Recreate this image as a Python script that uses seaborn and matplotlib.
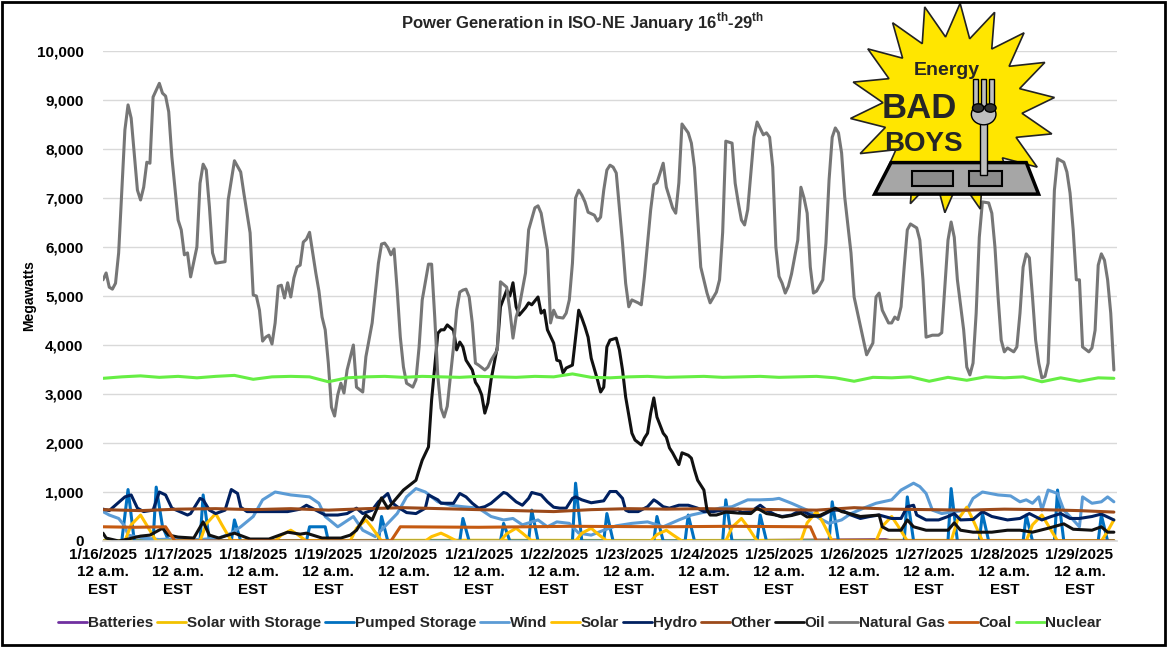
import matplotlib
matplotlib.use("Agg")
import matplotlib.pyplot as plt
from matplotlib.patches import Rectangle, Polygon, Ellipse
import seaborn as sns
import pandas as pd
import numpy as np

# (hour since 1/16/2025 12 a.m., megawatts)
gas = [(0,5330),(1,5470),(2,5180),(3,5140),(4,5260),(5,5880),(7,8390),(8,8900),(9,8630),(11,7160),(12,6960),(13,7220),(14,7730),(15,7710),(16,9060),(18,9340),(19,9140),(20,9080),(21,8760),(22,7840),(24,6550),(25,6350),(26,5840),(27,5880),(28,5390),(30,6000),(31,7300),(32,7690),(33,7570),(34,6820),(35,5880),(36,5670),(38,5690),(39,5700),(40,6960),(42,7760),(44,7530),(45,7100),(47,6290),(48,5020),(49,5000),(50,4710),(51,4080),(52,4160),(53,4200),(54,4020),(55,4450),(56,5200),(57,5220),(58,4960),(59,5270),(60,4980),(61,5370),(62,5590),(63,5630),(64,6100),(65,6160),(66,6300),(67,5880),(68,5470),(69,5100),(70,4570),(71,4310),(72,3630),(73,2730),(74,2550),(75,2980),(76,3220),(77,3020),(78,3490),(80,4000),(81,3140),(83,3040),(84,3760),(86,4450),(87,5060),(88,5670),(89,6060),(90,6080),(91,5990),(92,5840),(93,5960),(94,5120),(95,4160),(96,3550),(97,3220),(99,3140),(100,3290),(101,3960),(102,4920),(104,5650),(105,5650),(106,4570),(107,3350),(108,2710),(109,2530),(110,2750),(112,3960),(113,4710),(114,5080),(115,5120),(116,5140),(117,4980),(118,4450),(119,3630),(120,3590),(122,3490),(123,3550),(124,3690),(126,3900),(127,5290),(129,5180),(130,4710),(131,4140),(132,4570),(133,4780),(135,5470),(136,6350),(138,6800),(139,6840),(140,6690),(142,5940),(143,4450),(144,4710),(145,4570),(147,4550),(148,4650),(149,4920),(150,5670),(151,7000),(152,7160),(153,7060),(154,6920),(155,6710),(157,6650),(158,6530),(159,6610),(160,7160),(161,7570),(162,7670),(163,7630),(164,7510),(166,6080),(167,5260),(168,4780),(169,4920),(171,4860),(172,4820),(173,5390),(175,6760),(176,7270),(177,7310),(179,7710),(180,7220),(182,6800),(183,6690),(184,7310),(185,8510),(187,8330),(188,8120),(189,7620),(190,6610),(191,5590),(193,5060),(194,4860),(196,5080),(197,5330),(198,6300),(199,8160),(201,8120),(202,7300),(203,6900),(204,6550),(205,6450),(206,6760),(207,7510),(208,8240),(209,8550),(211,8290),(212,8330),(213,8240),(214,7630),(215,6000),(216,5400),(217,5260),(218,5060),(219,5200),(220,5450),(222,6140),(223,7220),(224,7000),(225,6690),(226,5590),(227,5060),(228,5100),(230,5330),(231,6080),(232,7370),(233,8240),(234,8430),(235,8330),(236,7920),(237,7020),(239,5880),(240,4980),(243,4100),(244,3800),(246,4040),(247,4980),(248,5060),(249,4710),(251,4450),(252,4450),(253,4570),(254,4520),(255,4780),(256,5590),(257,6350),(258,6470),(260,6390),(261,6140),(262,5330),(263,4160),(265,4200),(267,4200),(268,4250),(269,5180),(270,6140),(271,6510),(272,6200),(273,5330),(275,4310),(276,3550),(277,3390),(278,3630),(279,4650),(280,6200),(281,6920),(283,6900),(284,6690),(285,6000),(286,4980),(287,4100),(288,3860),(289,3940),(291,3860),(292,3960),(293,4650),(294,5590),(295,5860),(296,5780),(297,4980),(298,4100),(299,3630),(300,3330),(301,3360),(302,3630),(303,5330),(304,7160),(305,7800),(307,7730),(308,7530),(309,7100),(310,6350),(311,5330),(312,5330),(313,3960),(315,3860),(316,3940),(317,4300),(318,5630),(319,5860),(320,5730),(321,5330),(322,4650),(323,3490)]

nuclear = [(0,3320),(6,3350),(12,3370),(18,3340),(24,3360),(30,3330),(36,3360),(42,3380),(48,3300),(54,3350),(60,3360),(66,3350),(72,3250),(78,3330),(84,3350),(90,3360),(96,3340),(102,3360),(108,3350),(114,3340),(120,3360),(126,3350),(132,3340),(138,3360),(144,3350),(150,3410),(156,3340),(162,3330),(168,3350),(174,3360),(180,3340),(186,3350),(192,3360),(198,3340),(204,3350),(210,3360),(216,3340),(222,3350),(228,3360),(234,3330),(240,3260),(246,3340),(252,3330),(258,3350),(264,3260),(270,3340),(276,3280),(282,3350),(288,3330),(294,3350),(300,3250),(306,3330),(312,3260),(318,3330),(323,3320)]

oil = [(0,160),(1,60),(5,0),(8,40),(12,100),(15,120),(19,260),(21,120),(24,80),(29,60),(32,390),(34,120),(37,60),(42,160),(47,40),(53,40),(59,180),(63,140),(65,160),(70,60),(76,60),(79,120),(81,220),(84,530),(86,430),(89,880),(91,670),(92,740),(96,1040),(100,1240),(101,1450),(102,1650),(104,1920),(105,2880),(107,4240),(108,4310),(109,4310),(110,4410),(112,4300),(113,3900),(114,4060),(115,3960),(116,3690),(118,3490),(119,3240),(120,3140),(121,2980),(122,2610),(123,2820),(124,3290),(126,3960),(127,4780),(129,5120),(130,5000),(131,5270),(132,4780),(133,4610),(135,4760),(136,4860),(137,4820),(139,4980),(140,4650),(141,4710),(142,4310),(144,4040),(145,3690),(146,3670),(147,3430),(148,3530),(150,3590),(151,4160),(152,4710),(153,4550),(154,4370),(155,4160),(156,3730),(158,3290),(159,3040),(160,3140),(161,3960),(162,4100),(164,4140),(165,3900),(166,3490),(167,2940),(169,2200),(170,2060),(172,1960),(173,2100),(174,2200),(175,2610),(176,2920),(177,2530),(179,2200),(180,2120),(181,1900),(182,1800),(184,1560),(185,1800),(187,1750),(188,1690),(189,1450),(190,1240),(192,1040),(193,630),(194,530),(196,530),(199,590),(203,570),(207,560),(209,670),(212,560),(215,530),(217,490),(220,520),(223,570),(225,490),(229,520),(234,670),(236,600),(238,570),(242,500),(248,530),(249,290),(251,220),(255,220),(257,430),(259,290),(263,220),(270,220),(272,370),(274,220),(278,180),(284,180),(289,220),(293,220),(297,180),(302,260),(307,350),(310,240),(316,220),(319,290),(321,180),(323,180)]

hydro = [(0,650),(2,620),(7,900),(9,940),(11,670),(13,600),(16,630),(18,1000),(20,940),(22,670),(27,530),(28,560),(31,870),(32,840),(34,630),(36,560),(39,630),(41,1050),(43,970),(44,690),(46,600),(49,600),(52,600),(59,600),(63,650),(65,730),(68,630),(71,530),(75,530),(78,560),(81,670),(83,560),(86,630),(88,800),(91,970),(92,800),(94,700),(97,580),(100,560),(103,670),(104,940),(107,840),(108,770),(112,770),(114,970),(116,900),(118,770),(120,670),(122,700),(124,770),(128,990),(129,970),(132,800),(134,730),(136,870),(137,990),(140,940),(142,800),(144,690),(146,670),(148,670),(150,870),(151,900),(153,840),(156,780),(158,800),(160,820),(162,1010),(164,1010),(166,870),(167,630),(168,600),(171,600),(174,700),(176,840),(177,800),(179,700),(181,670),(184,730),(187,730),(190,670),(192,600),(195,600),(198,630),(200,600),(203,650),(204,580),(207,600),(210,730),(212,630),(215,530),(217,500),(220,530),(223,630),(226,530),(229,500),(233,630),(236,630),(239,530),(242,460),(245,500),(248,530),(252,460),(255,460),(257,700),(259,730),(260,530),(263,430),(267,430),(270,500),(272,560),(274,430),(278,440),(281,600),(284,500),(289,430),(293,460),(296,560),(300,430),(303,500),(306,560),(309,460),(312,460),(316,500),(319,550),(323,430)]

wind = [(0,600),(2,530),(5,460),(7,300),(8,120),(13,60),(18,30),(24,50),(31,30),(37,60),(41,160),(44,290),(48,500),(51,840),(55,1000),(60,940),(66,900),(69,770),(71,500),(75,290),(76,330),(80,500),(83,220),(87,90),(91,360),(94,560),(97,900),(100,1070),(103,1000),(107,800),(111,730),(115,700),(120,670),(124,500),(128,430),(131,460),(134,330),(139,430),(142,290),(145,390),(149,360),(152,160),(156,120),(160,220),(164,310),(169,360),(174,390),(179,290),(184,430),(188,530),(193,600),(197,670),(201,700),(206,840),(210,840),(214,850),(216,870),(220,770),(225,630),(229,460),(232,360),(236,430),(239,560),(243,670),(247,770),(252,840),(255,1040),(259,1180),(261,1110),(263,970),(265,630),(268,560),(272,600),(276,630),(278,870),(281,1000),(286,940),(290,920),(293,800),(295,840),(297,770),(299,900),(300,630),(302,1040),(305,970),(307,630),(310,430),(312,290),(313,900),(316,770),(319,800),(321,900),(323,800)]

pumped = [(0,0),(6,0),(8,1050),(10,0),(16,0),(17,1100),(19,300),(21,0),(31,0),(32,940),(34,0),(41,0),(42,430),(44,0),(65,0),(66,290),(71,290),(72,0),(88,0),(89,500),(91,0),(114,0),(115,460),(117,0),(127,0),(128,360),(130,0),(136,0),(137,630),(139,0),(150,0),(151,1180),(153,0),(160,0),(161,560),(163,0),(176,0),(177,500),(179,0),(186,0),(187,530),(189,0),(198,0),(199,840),(201,0),(209,0),(210,530),(212,0),(232,0),(233,800),(235,0),(256,0),(257,900),(259,0),(270,0),(271,1070),(273,0),(280,0),(281,560),(283,0),(294,0),(295,530),(297,0),(304,0),(305,1040),(307,0),(318,0),(319,530),(321,0),(323,0)]

solar = [(0,0),(7,0),(9,330),(12,530),(14,320),(17,0),(31,0),(33,350),(36,560),(38,330),(41,0),(55,0),(57,120),(60,220),(62,140),(65,0),(79,0),(81,260),(84,430),(86,270),(89,0),(103,0),(105,90),(108,160),(110,100),(113,0),(127,0),(129,150),(132,260),(134,160),(137,0),(151,0),(153,160),(156,260),(158,150),(161,0),(175,0),(177,130),(180,220),(182,130),(185,0),(199,0),(201,280),(204,460),(206,290),(209,0),(223,0),(225,370),(228,600),(230,380),(233,0),(247,0),(249,300),(252,500),(254,310),(257,0),(271,0),(273,420),(276,690),(278,430),(281,0),(295,0),(297,330),(300,530),(302,320),(305,0),(319,0),(321,200),(323,430)]

solar_storage = [(0,10),(60,10),(120,15),(180,10),(240,15),(300,10),(323,10)]

batteries = [(0,0),(100,0),(200,5),(250,30),(252,0),(323,0)]

other = [(0,640),(12,620),(24,650),(36,660),(48,640),(60,660),(72,630),(84,660),(96,680),(108,660),(120,640),(132,620),(144,600),(156,640),(168,660),(180,650),(192,660),(204,650),(216,640),(228,630),(240,680),(252,650),(264,640),(276,630),(288,650),(300,640),(312,620),(323,590)]

coal = [(0,290),(10,280),(20,290),(23,0),(92,0),(95,290),(120,280),(150,300),(180,290),(200,300),(226,290),(228,0),(323,0)]

dates = ["1/16/2025", "1/17/2025", "1/18/2025", "1/19/2025", "1/20/2025", "1/21/2025", "1/22/2025",
         "1/23/2025", "1/24/2025", "1/25/2025", "1/26/2025", "1/27/2025", "1/28/2025", "1/29/2025"]

series = {
    "Batteries": batteries,
    "Solar with Storage": solar_storage,
    "Pumped Storage": pumped,
    "Wind": wind,
    "Solar": solar,
    "Hydro": hydro,
    "Other": other,
    "Oil": oil,
    "Natural Gas": gas,
    "Coal": coal,
    "Nuclear": nuclear,
}
colors = {
    "Batteries": "#7030A0",
    "Solar with Storage": "#F2C200",
    "Pumped Storage": "#0070C0",
    "Wind": "#5B9BD5",
    "Solar": "#FFC000",
    "Hydro": "#002060",
    "Other": "#9C4A1A",
    "Oil": "#111111",
    "Natural Gas": "#767676",
    "Coal": "#C55A11",
    "Nuclear": "#66EE44",
}

frames = []
for name, pts in series.items():
    part = pd.DataFrame(pts, columns=["hour", "mw"])
    part["source"] = name
    frames.append(part)
df = pd.concat(frames, ignore_index=True)

sns.set_theme(style="white")
plt.rcParams["font.family"] = ["Liberation Sans", "DejaVu Sans"]
plt.rcParams["font.weight"] = "bold"
plt.rcParams["mathtext.fontset"] = "custom"
plt.rcParams["mathtext.rm"] = "Liberation Sans:bold"
plt.rcParams["mathtext.bf"] = "Liberation Sans:bold"

fig = plt.figure(figsize=(11.67, 6.47), dpi=100)
ax = fig.add_axes([103 / 1167, 1 - 541 / 647, 1014 / 1167, 490 / 647])

sns.lineplot(data=df, x="hour", y="mw", hue="source", hue_order=list(series.keys()),
             palette=colors, estimator=None, linewidth=2.2, ax=ax)

ax.set_xlim(0, 324)
ax.set_ylim(0, 10000)
ax.set_yticks(range(0, 10001, 1000))
ax.set_yticklabels([f"{v:,}" for v in range(0, 10001, 1000)], fontsize=11, fontweight="bold")
ax.set_xticks(range(0, 313, 24))
ax.set_xticklabels([f"{d}\n12 a.m.\nEST" for d in dates], fontsize=11, fontweight="bold", linespacing=1.3)
ax.tick_params(axis="both", length=0, colors="black")
ax.tick_params(axis="y", pad=14)
ax.tick_params(axis="x", pad=5)
ax.yaxis.grid(True, color="#D9D9D9", linewidth=1)
ax.set_axisbelow(True)
for side in ["top", "right", "left"]:
    ax.spines[side].set_visible(False)
ax.spines["bottom"].set_color("#D9D9D9")
ax.set_xlabel("")
ax.set_ylabel("Megawatts", fontsize=10, fontweight="bold", color="black")
ax.yaxis.set_label_coords(-0.066, 0.5)

handles, labels = ax.get_legend_handles_labels()
ax.get_legend().remove()
for h in handles:
    h.set_linewidth(2.0)
fig.legend(handles, labels, loc="center", bbox_to_anchor=(580 / 1167, 1 - 623 / 647), ncol=11,
           frameon=False, fontsize=11, handlelength=1.9, handletextpad=0.05, columnspacing=0.25)

fig.text(583 / 1167, 1 - 22 / 647, r"Power Generation in ISO-NE January 16$^{\mathrm{th}}$-29$^{\mathrm{th}}$",
         ha="center", va="center", fontsize=12, fontweight="bold")

# logo badge
logo = fig.add_axes([850 / 1167, 1 - 213 / 647, 205 / 1167, 210 / 647])
logo.set_axis_off()
logo.set_xlim(0, 1)
logo.set_ylim(0, 1)
ang = np.linspace(0, 2 * np.pi, 37)[:-1] + 0.1
rad = np.where(np.arange(36) % 2 == 0, 0.5, 0.34)
logo.add_patch(Polygon(np.column_stack([0.5 + rad * np.cos(ang), 0.5 + rad * np.sin(ang)]),
                       closed=True, facecolor="#FFE600", edgecolor="#222222", linewidth=1.2))
logo.add_patch(Polygon([(0.12, 0.09), (0.92, 0.09), (0.86, 0.24), (0.20, 0.24)], closed=True,
                       facecolor="#A6A6A6", edgecolor="black", linewidth=2.5))
logo.add_patch(Rectangle((0.30, 0.13), 0.2, 0.07, facecolor="#8C8C8C", edgecolor="black", linewidth=1.5))
logo.add_patch(Rectangle((0.58, 0.13), 0.16, 0.07, facecolor="#8C8C8C", edgecolor="black", linewidth=1.5))
# fork
logo.add_patch(Rectangle((0.635, 0.18), 0.035, 0.25, facecolor="#BFBFBF", edgecolor="black", linewidth=1))
logo.add_patch(Ellipse((0.652, 0.47), 0.12, 0.10, facecolor="#BFBFBF", edgecolor="black", linewidth=1))
for tx in [0.60, 0.64, 0.68]:
    logo.add_patch(Rectangle((tx, 0.51), 0.022, 0.13, facecolor="#BFBFBF", edgecolor="black", linewidth=1))
logo.add_patch(Ellipse((0.625, 0.50), 0.055, 0.04, facecolor="#333333", edgecolor="black"))
logo.add_patch(Ellipse((0.685, 0.50), 0.055, 0.04, facecolor="#333333", edgecolor="black"))
logo.text(0.47, 0.68, "Energy", ha="center", va="center", fontsize=14, fontweight="bold")
logo.text(0.34, 0.50, "BAD", ha="center", va="center", fontsize=25, fontweight="bold")
logo.text(0.36, 0.33, "BOYS", ha="center", va="center", fontsize=20, fontweight="bold")

fig.add_artist(Rectangle((0.002, 0.003), 0.996, 0.994, transform=fig.transFigure,
                         fill=False, edgecolor="black", linewidth=2))

fig.savefig("out.png", dpi=100)
